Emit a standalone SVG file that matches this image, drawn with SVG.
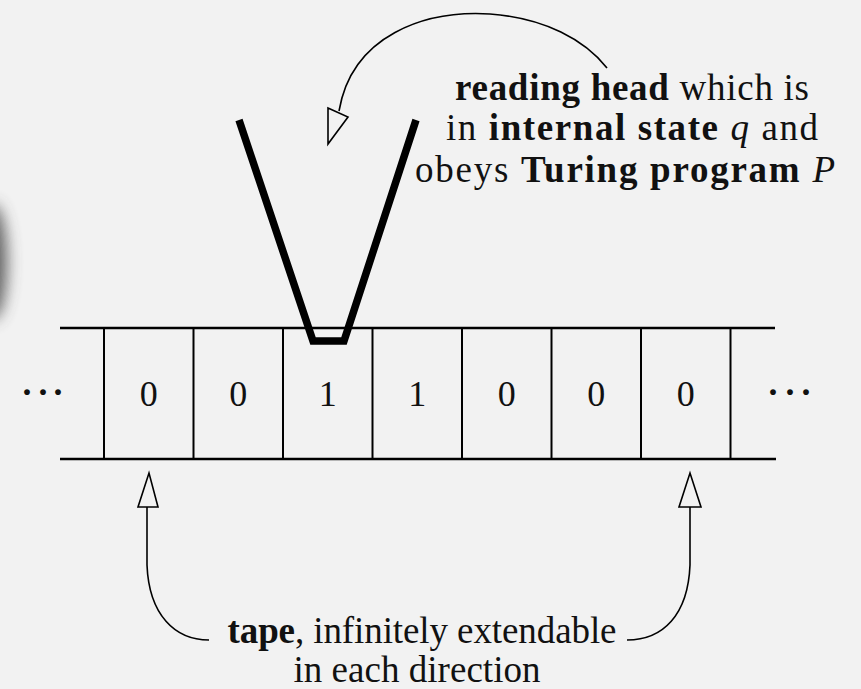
<svg xmlns="http://www.w3.org/2000/svg" width="861" height="689" viewBox="0 0 861 689">
  <defs>
    <filter id="blur" x="-100%" y="-100%" width="300%" height="300%">
      <feGaussianBlur stdDeviation="8"/>
    </filter>
    <style>
      .t { font-family: "Liberation Serif", "Times New Roman", serif; font-size: 37px; fill: #111; }
      .b { font-weight: bold; }
      .i { font-style: italic; }
      .d { font-family: "Liberation Serif", "Times New Roman", serif; font-size: 36px; fill: #111; text-anchor: middle; }
      .tape { stroke: #000; stroke-width: 2.4; fill: none; }
      .cell { stroke: #000; stroke-width: 2; fill: none; }
      .arrow { stroke: #000; stroke-width: 1.6; fill: none; }
      .head-tri { stroke: #000; stroke-width: 1.6; fill: none; stroke-linejoin: miter; }
    </style>
  </defs>

  <rect x="0" y="0" width="861" height="689" fill="#f2f2f2"/>
  <ellipse cx="-8" cy="262" rx="15" ry="58" fill="#4a4a4a" opacity="0.85" filter="url(#blur)"/>

  <g id="tape">
    <line class="tape" x1="60" y1="328" x2="775" y2="328"/>
    <line class="tape" x1="60" y1="459" x2="776" y2="459"/>
    <line class="cell" x1="104" y1="328" x2="104" y2="459"/>
    <line class="cell" x1="193.5" y1="328" x2="193.5" y2="459"/>
    <line class="cell" x1="283" y1="328" x2="283" y2="459"/>
    <line class="cell" x1="372.5" y1="328" x2="372.5" y2="459"/>
    <line class="cell" x1="462" y1="328" x2="462" y2="459"/>
    <line class="cell" x1="551.5" y1="328" x2="551.5" y2="459"/>
    <line class="cell" x1="641" y1="328" x2="641" y2="459"/>
    <line class="cell" x1="730.5" y1="328" x2="730.5" y2="459"/>
    <text class="d" x="148.75" y="406">0</text>
    <text class="d" x="238.25" y="406">0</text>
    <text class="d" x="327.75" y="406">1</text>
    <text class="d" x="417.25" y="406">1</text>
    <text class="d" x="506.75" y="406">0</text>
    <text class="d" x="596.25" y="406">0</text>
    <text class="d" x="685.75" y="406">0</text>
    <text class="d" x="27 43 58" y="404" font-weight="bold">···</text>
    <text class="d" x="773 790 806" y="404" font-weight="bold">···</text>
  </g>

  <g id="head">
    <polyline points="239,120 313,341 344,341 416,120" fill="none" stroke="#000" stroke-width="7.5" stroke-linejoin="miter"/>
  </g>

  <g id="head-label">
    <text class="t" x="632" y="100" text-anchor="middle" textLength="354" lengthAdjust="spacing"><tspan class="b">reading head</tspan> which is</text>
    <text class="t" x="632" y="140" text-anchor="middle" textLength="372" lengthAdjust="spacing">in <tspan class="b">internal state</tspan> <tspan class="i">q</tspan> and</text>
    <text class="t" x="625" y="182" text-anchor="middle" textLength="420" lengthAdjust="spacing">obeys <tspan class="b">Turing program</tspan> <tspan class="i">P</tspan></text>
  </g>

  <g id="tape-label">
    <text class="t" x="422" y="643" text-anchor="middle" textLength="389" lengthAdjust="spacing"><tspan class="b">tape</tspan>, infinitely extendable</text>
    <text class="t" x="417" y="682" text-anchor="middle" textLength="247" lengthAdjust="spacing">in each direction</text>
  </g>

  <g id="connectors">
    <path class="arrow" d="M607,68 C585,40 545,18 490,14 C425,10 352,35 339,111"/>
    <polygon class="head-tri" points="328,108 348,117 328,144"/>
    <path class="arrow" d="M147,507 L147,565 C149,615 175,640 209,640"/>
    <polygon class="head-tri" points="138,507 158,507 149,473"/>
    <path class="arrow" d="M627,640 C663,640 688,615 690,565 L690,507"/>
    <polygon class="head-tri" points="679,507 701,507 690,473"/>
  </g>
</svg>
